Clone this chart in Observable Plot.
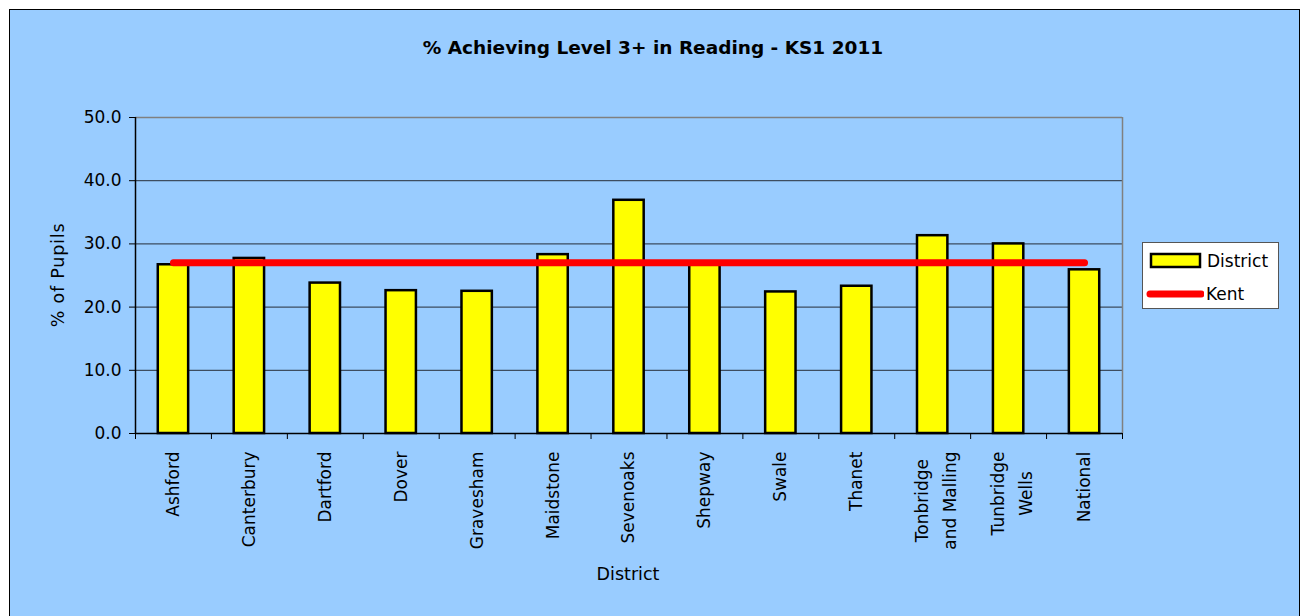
<!DOCTYPE html>
<html>
<head>
<meta charset="utf-8">
<script src="https://cdn.jsdelivr.net/npm/d3@7"></script>
<script src="https://cdn.jsdelivr.net/npm/@observablehq/plot@0.6"></script>
<style>
  html, body { margin: 0; padding: 0; background: #ffffff; }
  body { width: 1301px; height: 616px; position: relative; overflow: hidden; font-family: "DejaVu Sans", Verdana, sans-serif; }
  #frame { position: absolute; left: 9px; top: 9px; width: 1291px; height: 640px; background: #99CCFF; border: 1px solid #000; box-sizing: border-box; }
  #chart { position: absolute; left: 0; top: 0; }
  .title { position: absolute; left: 0; width: 1306px; top: 37px; text-align: center; font-weight: bold; font-size: 18.5px; color: #000; }
  .xtitle { position: absolute; left: 528px; width: 200px; top: 564px; text-align: center; font-size: 17.5px; color: #000; }
  .ytitle { position: absolute; left: 58px; top: 275px; transform: translate(-50%, -50%) rotate(-90deg); font-size: 17.5px; letter-spacing: 0.8px; color: #000; white-space: nowrap; }
  #legend { position: absolute; left: 1142px; top: 242px; width: 137px; height: 67px; background: #fff; border: 1px solid #555; box-sizing: border-box; font-size: 17px; }
  #legend .row { position: absolute; left: 0; height: 22px; display: flex; align-items: center; }
  #legend svg { display: block; }
</style>
</head>
<body>
<div id="frame"></div>
<div id="chart"></div>
<div class="title">% Achieving Level 3+ in Reading - KS1 2011</div>
<div class="ytitle">% of Pupils</div>
<div class="xtitle">District</div>
<div id="legend">
  <div class="row" style="top:7px;left:6px;">
    <svg width="54" height="18"><rect x="2" y="2" width="49" height="13" fill="#FFFF00" stroke="#000" stroke-width="2.5"></rect></svg>
    <span style="margin-left:4px;">District</span>
  </div>
  <div class="row" style="top:40px;left:3px;">
    <svg width="58" height="14"><line x1="4" y1="7" x2="55" y2="7" stroke="#FF0000" stroke-width="7" stroke-linecap="round"></line></svg>
    <span style="margin-left:2px;">Kent</span>
  </div>
</div>
<script>
const districts = ["Ashford", "Canterbury", "Dartford", "Dover", "Gravesham", "Maidstone", "Sevenoaks", "Shepway", "Swale", "Thanet", "Tonbridge\nand Malling", "Tunbridge\nWells", "National"];
const districtValues = [26.7, 27.7, 23.8, 22.6, 22.5, 28.3, 36.9, 26.8, 22.4, 23.3, 31.3, 30.0, 25.9];
const kentValues = [27.0, 27.0, 27.0, 27.0, 27.0, 27.0, 27.0, 27.0, 27.0, 27.0, 27.0, 27.0, 27.0];
const yTicks = [0, 10, 20, 30, 40, 50];

const data = districts.map((d, i) => ({district: d, value: districtValues[i], kent: kentValues[i]}));

const W = 1301, H = 616;
const mL = 135, mR = 179, mT = 117, mB = 183;
const step = (W - mL - mR) / districts.length;
const FONT = 17;
const labelPad = 18;

// measure label text widths so multi-line labels are centred like the original
const ctx = document.createElement("canvas").getContext("2d");
ctx.font = `${FONT}px "DejaVu Sans"`;
const maxLineWidth = s => Math.max(...s.split("\n").map(l => ctx.measureText(l).width));

const singleLine = districts.filter(d => !d.includes("\n"));
const multiLine = districts.filter(d => d.includes("\n"));

const labelMarks = [
  Plot.text(singleLine, {x: d => d, y: 0, text: d => d, rotate: -90, textAnchor: "end", dy: labelPad, fontSize: FONT, fill: "#000"}),
  ...multiLine.map(d => Plot.text([d], {x: t => t, y: 0, text: t => t, rotate: -90, textAnchor: "middle", lineHeight: 1.65, dy: labelPad + maxLineWidth(d) / 2, fontSize: FONT, fill: "#000"}))
];

const chart = Plot.plot({
  width: W,
  height: H,
  marginLeft: mL,
  marginRight: mR,
  marginTop: mT,
  marginBottom: mB,
  style: {background: "transparent", fontFamily: "DejaVu Sans, Verdana, sans-serif", fontSize: "17px", color: "#000"},
  x: {domain: districts, paddingInner: 0.6, paddingOuter: 0.3, round: false, label: null, axis: null},
  y: {domain: [0, 50], label: null},
  marks: [
    Plot.ruleY(yTicks.filter(t => t > 0 && t < 50), {stroke: "#3d4d60", strokeWidth: 1.2}),
    Plot.ruleY([50], {stroke: "#808080", strokeWidth: 1.5}),
    Plot.ruleX([districts[districts.length - 1]], {dx: step / 2, stroke: "#808080", strokeWidth: 1.5}),
    Plot.barY(data, {x: "district", y: "value", fill: "#FFFF00", stroke: "#000", strokeWidth: 2.5}),
    Plot.line(data, {x: "district", y: "kent", stroke: "#FF0000", strokeWidth: 7, strokeLinecap: "round"}),
    Plot.ruleX(districts, {dx: -step / 2, y1: 0, y2: 0, insetBottom: -6, stroke: "#000", strokeWidth: 1}),
    Plot.ruleX([districts[districts.length - 1]], {dx: step / 2, y1: 0, y2: 0, insetBottom: -6, stroke: "#000", strokeWidth: 1}),
    Plot.ruleY([0], {stroke: "#000", strokeWidth: 1.5}),
    Plot.ruleX([districts[0]], {dx: -step / 2, stroke: "#000", strokeWidth: 1.5}),
    Plot.axisY({ticks: yTicks, tickSize: 6, tickPadding: 8, tickFormat: d => d.toFixed(1), label: null, stroke: "#000", fontSize: FONT}),
    ...labelMarks
  ]
});
document.getElementById("chart").appendChild(chart);
</script>
</body>
</html>
